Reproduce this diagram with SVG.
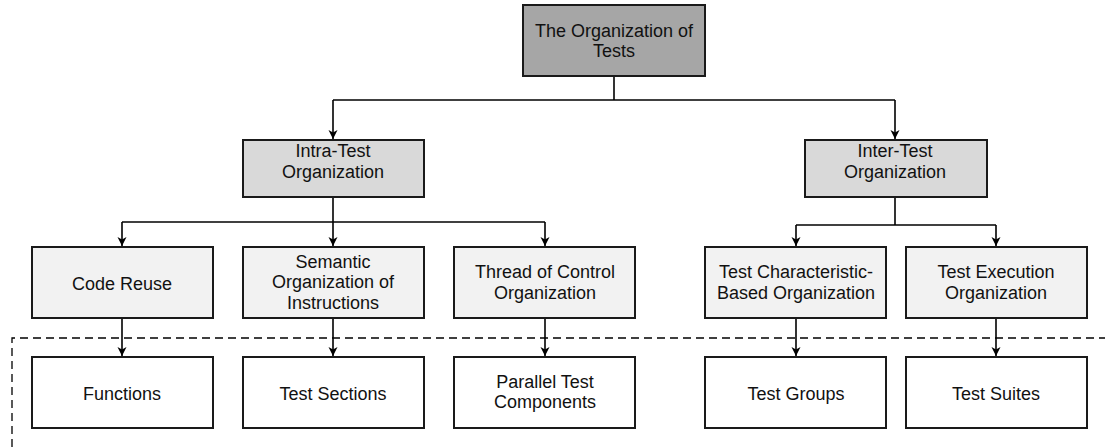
<svg xmlns="http://www.w3.org/2000/svg" width="1105" height="447" viewBox="0 0 1105 447">
<style>
.box{stroke:#1a1a1a;stroke-width:2}
.l1{fill:#a6a6a6}.l2{fill:#d9d9d9}.l3{fill:#f2f2f2}.l4{fill:#ffffff}
text{font-family:"Liberation Sans",Arial,sans-serif;font-size:18px;fill:#111;text-anchor:middle}
.c{fill:none;stroke:#000;stroke-width:1.6}
.dash{fill:none;stroke:#000;stroke-width:1.3;stroke-dasharray:8 5}
</style>
<defs>
<marker id="arr" markerWidth="10" markerHeight="10" refX="9" refY="5" orient="auto" markerUnits="userSpaceOnUse">
<path d="M0,0.5 L9,5 L0,9.5 L2.5,5 Z" fill="#000"/>
</marker>
</defs>
<rect width="1105" height="447" fill="#fff"/>
<path class="dash" d="M12,447 L12,338 L1105,338"/>
<g id="connectors">
<path class="c" d="M614,76 V100"/>
<path class="c" d="M333,100 H895"/>
<path class="c" d="M333,100 V139" marker-end="url(#arr)"/>
<path class="c" d="M895,100 V139" marker-end="url(#arr)"/>
<path class="c" d="M333,197 V222"/>
<path class="c" d="M122,222 H545"/>
<path class="c" d="M122,222 V246" marker-end="url(#arr)"/>
<path class="c" d="M333,222 V246" marker-end="url(#arr)"/>
<path class="c" d="M545,222 V246" marker-end="url(#arr)"/>
<path class="c" d="M895,197 V225"/>
<path class="c" d="M796,225 H996"/>
<path class="c" d="M796,225 V246" marker-end="url(#arr)"/>
<path class="c" d="M996,225 V246" marker-end="url(#arr)"/>
<path class="c" d="M122,318 V356" marker-end="url(#arr)"/>
<path class="c" d="M333,318 V356" marker-end="url(#arr)"/>
<path class="c" d="M545,318 V356" marker-end="url(#arr)"/>
<path class="c" d="M796,318 V356" marker-end="url(#arr)"/>
<path class="c" d="M996,318 V356" marker-end="url(#arr)"/>
</g>
<g id="root"><rect class="box l1" x="523" y="5" width="182" height="71"/><text x="614" y="37">The Organization of</text><text x="614" y="57">Tests</text></g>
<g id="intra"><rect class="box l2" x="243" y="140" width="181" height="57"/><text x="333" y="157">Intra-Test</text><text x="333" y="178">Organization</text></g>
<g id="inter"><rect class="box l2" x="805" y="140" width="182" height="57"/><text x="895" y="157">Inter-Test</text><text x="895" y="178">Organization</text></g>
<g id="codereuse"><rect class="box l3" x="32" y="247" width="181" height="71"/><text x="122" y="290">Code Reuse</text></g>
<g id="semantic"><rect class="box l3" x="243" y="247" width="181" height="71"/><text x="333" y="268">Semantic</text><text x="333" y="288">Organization of</text><text x="333" y="309">Instructions</text></g>
<g id="thread"><rect class="box l3" x="454" y="247" width="181" height="71"/><text x="545" y="278">Thread of Control</text><text x="545" y="299">Organization</text></g>
<g id="testchar"><rect class="box l3" x="705" y="247" width="181" height="71"/><text x="796" y="278">Test Characteristic-</text><text x="796" y="299">Based Organization</text></g>
<g id="testexec"><rect class="box l3" x="906" y="247" width="181" height="71"/><text x="996" y="278">Test Execution</text><text x="996" y="299">Organization</text></g>
<g id="functions"><rect class="box l4" x="32" y="357" width="181" height="71"/><text x="122" y="400">Functions</text></g>
<g id="testsections"><rect class="box l4" x="243" y="357" width="181" height="71"/><text x="333" y="400">Test Sections</text></g>
<g id="parallel"><rect class="box l4" x="454" y="357" width="181" height="71"/><text x="545" y="388">Parallel Test</text><text x="545" y="408">Components</text></g>
<g id="testgroups"><rect class="box l4" x="705" y="357" width="181" height="71"/><text x="796" y="400">Test Groups</text></g>
<g id="testsuites"><rect class="box l4" x="906" y="357" width="181" height="71"/><text x="996" y="400">Test Suites</text></g>
</svg>
